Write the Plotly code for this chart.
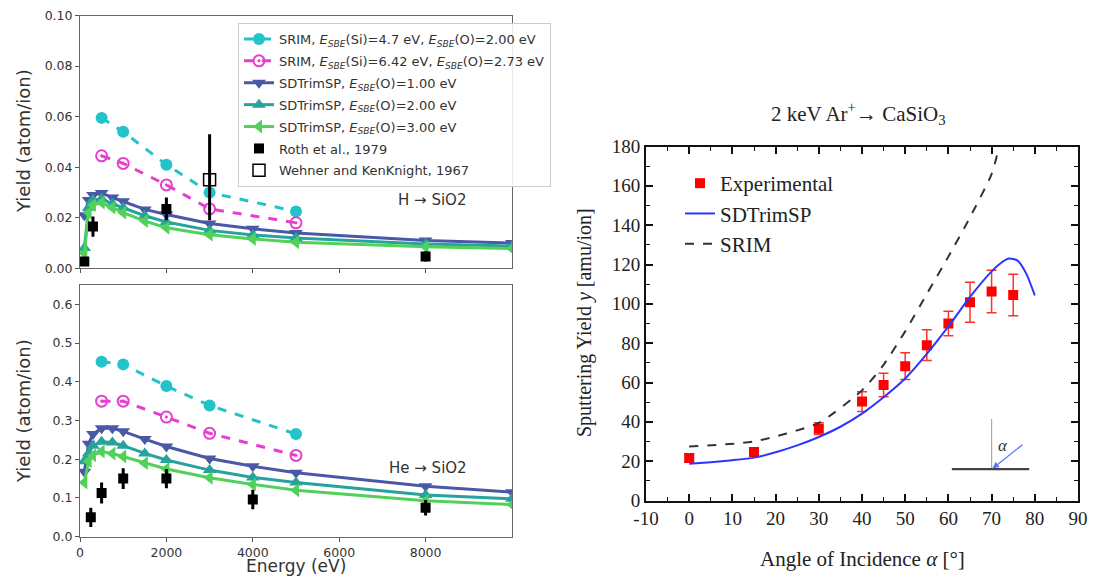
import plotly.graph_objects as go

# ---------------- data: left panels (Energy in eV) ----------------
E_sdt = [100, 200, 300, 500, 750, 1000, 1500, 2000, 3000, 4000, 5000, 8000, 10000]
E_srim = [500, 1000, 2000, 3000, 5000]

# H -> SiO2
H_srim1 = [0.0595, 0.054, 0.041, 0.030, 0.0225]
H_srim2 = [0.0445, 0.0415, 0.033, 0.0235, 0.018]
H_sdt1 = [0.021, 0.027, 0.029, 0.0298, 0.028, 0.0265, 0.0233, 0.0213, 0.0177, 0.0156, 0.014, 0.011, 0.0100]
H_sdt2 = [0.008, 0.024, 0.027, 0.0275, 0.0255, 0.024, 0.0208, 0.0183, 0.015, 0.0132, 0.012, 0.0096, 0.0088]
H_sdt3 = [0.006, 0.022, 0.025, 0.026, 0.024, 0.022, 0.0187, 0.016, 0.0133, 0.0116, 0.0103, 0.0085, 0.0078]
H_roth_E = [100, 300, 2000, 8000]
H_roth_y = [0.0027, 0.0165, 0.0235, 0.0047]
H_roth_err = [0.0015, 0.004, 0.0045, 0.002]
H_wehner_E = [3000]
H_wehner_y = [0.035]
H_wehner_errp = [0.018]
H_wehner_errm = [0.016]

# He -> SiO2
He_srim1 = [0.452, 0.445, 0.389, 0.339, 0.265]
He_srim2 = [0.350, 0.350, 0.309, 0.267, 0.210]
He_sdt1 = [0.168, 0.240, 0.265, 0.280, 0.280, 0.272, 0.252, 0.233, 0.202, 0.182, 0.165, 0.130, 0.115]
He_sdt2 = [0.195, 0.215, 0.235, 0.245, 0.243, 0.235, 0.215, 0.198, 0.172, 0.153, 0.140, 0.108, 0.098]
He_sdt3 = [0.140, 0.195, 0.210, 0.220, 0.215, 0.207, 0.190, 0.175, 0.152, 0.135, 0.120, 0.093, 0.083]
He_roth_E = [250, 500, 1000, 2000, 4000, 8000]
He_roth_y = [0.050, 0.113, 0.150, 0.150, 0.096, 0.075]
He_roth_err = [0.025, 0.027, 0.027, 0.025, 0.025, 0.02]

# tick values of the left panels
E_ticks = [0, 2000, 4000, 6000, 8000]
H_yticks = [0.0, 0.02, 0.04, 0.06, 0.08, 0.10]
He_yticks = [0.0, 0.1, 0.2, 0.3, 0.4, 0.5, 0.6]

# ---------------- data: right panel ----------------
ang_exp = [0, 15, 30, 40, 45, 50, 55, 60, 65, 70, 75]
y_exp = [21.6, 24.6, 36.5, 50.3, 58.7, 68.3, 79.0, 90.0, 100.8, 106.3, 104.5]
err_exp = [2.0, 2.0, 3.0, 5.0, 6.0, 6.8, 7.8, 6.2, 10.2, 10.8, 10.6]
ang_sdt = [0, 5, 10, 15, 20, 25, 30, 35, 40, 45, 50, 55, 60, 65, 70, 72, 74, 76, 78, 80]
y_sdt = [18.7, 19.5, 20.5, 21.8, 24.5, 28.0, 32.3, 37.5, 44.2, 52.5, 62.0, 74.5, 88.5, 103.5, 116.5, 120.5, 123.0, 122.0, 115.5, 104.3]
ang_srim = [0, 15, 30, 40, 45, 50, 55, 60, 65, 70, 72]
y_srim = [27.5, 30.0, 39.5, 56.0, 69.0, 86.0, 105.0, 124.0, 144.0, 166.0, 182.0]
x3_ticks = [-10, 0, 10, 20, 30, 40, 50, 60, 70, 80, 90]
x3_labels = ["-10", "0", "10", "20", "30", "40", "50", "60", "70", "80", "90"]
y3_ticks = [0, 20, 40, 60, 80, 100, 120, 140, 160, 180]

C_CYAN = "#22c3c9"
C_MAG = "#e63fd0"
C_NAVY = "#4a58a6"
C_TEAL = "#27a39c"
C_GREEN = "#52d15a"

SANS = "DejaVu Sans"
SERIF = "Liberation Serif"

def esbe(s):
    return "<i>E<sub>SBE</sub></i>(" + s + ")"

names = [
    "SRIM, " + esbe("Si") + "=4.7 eV, " + esbe("O") + "=2.00 eV",
    "SRIM, " + esbe("Si") + "=6.42 eV, " + esbe("O") + "=2.73 eV",
    "SDTrimSP, " + esbe("O") + "=1.00 eV",
    "SDTrimSP, " + esbe("O") + "=2.00 eV",
    "SDTrimSP, " + esbe("O") + "=3.00 eV",
    "Roth et al., 1979",
    "Wehner and KenKnight, 1967",
]

fig = go.Figure()

def add_panel(xa, ya, srim1, srim2, s1, s2, s3, rE, ry, rerr, show):
    fig.add_trace(go.Scatter(x=E_srim, y=srim1, mode="lines+markers", name=names[0], legendgroup="g0",
                             line=dict(color=C_CYAN, width=3, dash="dash"),
                             marker=dict(symbol="circle", size=12, color=C_CYAN),
                             xaxis=xa, yaxis=ya, showlegend=show, legend="legend"))
    fig.add_trace(go.Scatter(x=E_srim, y=srim2, mode="lines+markers", name=names[1], legendgroup="g1",
                             line=dict(color=C_MAG, width=3, dash="dash"),
                             marker=dict(symbol="circle-open-dot", size=11, color=C_MAG, line=dict(width=2)),
                             xaxis=xa, yaxis=ya, showlegend=show, legend="legend"))
    for i, (vals, col, sym) in enumerate([(s1, C_NAVY, "triangle-down"),
                                          (s2, C_TEAL, "triangle-up"),
                                          (s3, C_GREEN, "triangle-left")]):
        fig.add_trace(go.Scatter(x=E_sdt, y=vals, mode="lines+markers", name=names[2 + i],
                                 legendgroup="g%d" % (2 + i),
                                 line=dict(color=col, width=3),
                                 marker=dict(symbol=sym, size=12, color=col),
                                 xaxis=xa, yaxis=ya, showlegend=show, legend="legend"))
    fig.add_trace(go.Scatter(x=rE, y=ry, mode="markers", name=names[5], legendgroup="g5",
                             marker=dict(symbol="square", size=10, color="black"),
                             error_y=dict(type="data", array=rerr, color="black", thickness=3, width=0),
                             xaxis=xa, yaxis=ya, showlegend=show, legend="legend"))

add_panel("x", "y", H_srim1, H_srim2, H_sdt1, H_sdt2, H_sdt3, H_roth_E, H_roth_y, H_roth_err, True)
fig.add_trace(go.Scatter(x=H_wehner_E, y=H_wehner_y, mode="markers", name=names[6], legendgroup="g6",
                         marker=dict(symbol="square-open", size=12, color="black", line=dict(width=1.5)),
                         error_y=dict(type="data", symmetric=False, array=H_wehner_errp,
                                      arrayminus=H_wehner_errm, color="black", thickness=3, width=0),
                         xaxis="x", yaxis="y", legend="legend"))
add_panel("x2", "y2", He_srim1, He_srim2, He_sdt1, He_sdt2, He_sdt3, He_roth_E, He_roth_y, He_roth_err, False)

# right panel
fig.add_trace(go.Scatter(x=ang_exp, y=y_exp, mode="markers", name="Experimental",
                         marker=dict(symbol="square", size=10, color="#ff0000"),
                         error_y=dict(type="data", array=err_exp, color="#ff3030", thickness=1.5, width=5),
                         xaxis="x3", yaxis="y3", legend="legend2"))
fig.add_trace(go.Scatter(x=ang_sdt, y=y_sdt, mode="lines", name="SDTrimSP",
                         line=dict(color="#2b35ff", width=2, shape="spline", smoothing=0.6),
                         xaxis="x3", yaxis="y3", legend="legend2"))
fig.add_trace(go.Scatter(x=ang_srim, y=y_srim, mode="lines", name="SRIM",
                         line=dict(color="#333333", width=2, dash="dash", shape="spline", smoothing=0.6),
                         xaxis="x3", yaxis="y3", legend="legend2"))

# the page body adds an 8px margin all round; the figure is sized so the page
# does not overflow the 1097x585 window (no scrollbars)
OFF = 8
W, H = 1097 - 2 * OFF, 585 - 2 * OFF
def px(x):
    return (x - OFF) / W
def py(y):
    return 1 - (y - OFF) / H

left_ax = dict(showline=True, linecolor="#666666", linewidth=1, mirror=True, ticks="outside",
               ticklen=4, tickcolor="#555555", showgrid=False, zeroline=False, automargin=False,
               ticklabeloverflow="allow",
               tickfont=dict(family=SANS, size=12.5, color="#333333"))
right_ax = dict(showline=True, linecolor="#111111", linewidth=2, mirror="allticks", ticks="inside",
                ticklen=7, tickwidth=1.5, tickcolor="#111111", showgrid=False, zeroline=False,
                automargin=False, ticklabeloverflow="allow",
                tickfont=dict(family=SERIF, size=19, color="#222222"))

fig.update_layout(
    width=W, height=H, margin=dict(l=0, r=0, t=0, b=0, pad=0, autoexpand=False),
    paper_bgcolor="white", plot_bgcolor="white",
    xaxis=dict(domain=[px(80), px(512)], anchor="y", range=[0, 10000],
               tickvals=E_ticks, showticklabels=False, **left_ax),
    yaxis=dict(domain=[py(268.3), py(15.5)], anchor="x", range=[0, 0.1],
               tickvals=H_yticks, ticktext=["%.2f" % v for v in H_yticks], **left_ax),
    xaxis2=dict(domain=[px(80), px(512)], anchor="y2", range=[0, 10000],
                tickvals=E_ticks, **left_ax),
    yaxis2=dict(domain=[py(536.7), py(285)], anchor="x2", range=[0, 0.65],
                tickvals=He_yticks, ticktext=["%.1f" % v for v in He_yticks], **left_ax),
    xaxis3=dict(domain=[px(646), px(1078)], anchor="y3", range=[-10, 90],
                tickvals=x3_ticks, ticktext=x3_labels,
                minor=dict(ticks="inside", ticklen=4, tickwidth=1.2, tickcolor="#111111", dtick=5),
                **right_ax),
    yaxis3=dict(domain=[py(500.5), py(146.5)], anchor="x3", range=[0, 180], tickvals=y3_ticks,
                minor=dict(ticks="inside", ticklen=4, tickwidth=1.2, tickcolor="#111111", dtick=10),
                **right_ax),
    legend=dict(x=px(238), y=py(23), xanchor="left", yanchor="top",
                bgcolor="rgba(255,255,255,0.85)", bordercolor="#cccccc", borderwidth=1,
                font=dict(family=SANS, size=13, color="#333333"), tracegroupgap=2),
    legend2=dict(x=px(680), y=py(163), xanchor="left", yanchor="top",
                 bgcolor="rgba(0,0,0,0)", borderwidth=0,
                 font=dict(family=SERIF, size=21, color="#222222")),
    showlegend=True,
)

def A(**kw):
    d = dict(showarrow=False, xanchor="center", yanchor="middle")
    d.update(kw)
    return d

ann = []
ann.append(A(text="Yield (atom/ion)", x=px(23), y=py(141), xref="paper", yref="paper",
             textangle=-90, font=dict(family=SANS, size=18, color="#333333")))
ann.append(A(text="Yield (atom/ion)", x=px(23), y=py(411), xref="paper", yref="paper",
             textangle=-90, font=dict(family=SANS, size=18, color="#333333")))
ann.append(A(text="Energy (eV)", x=px(296), y=py(565.5), xref="paper", yref="paper",
             font=dict(family=SANS, size=17, color="#333333")))
ann.append(A(text="H → SiO2", x=8150, y=0.027, xref="x", yref="y",
             font=dict(family=SANS, size=15, color="#333333")))
ann.append(A(text="He → SiO2", x=8050, y=0.178, xref="x2", yref="y2",
             font=dict(family=SANS, size=15, color="#333333")))
ann.append(A(text="2 keV Ar<sup>+</sup>→ CaSiO<sub>3</sub>", x=px(858), y=py(113),
             xref="paper", yref="paper", font=dict(family=SERIF, size=21, color="#222222")))
ann.append(A(text="Sputtering Yield <i>y</i> [amu/ion]", x=px(584), y=py(323),
             xref="paper", yref="paper", textangle=-90,
             font=dict(family=SERIF, size=20, color="#222222")))
ann.append(A(text="Angle of Incidence <i>α</i> [°]", x=px(862), y=py(559),
             xref="paper", yref="paper", font=dict(family=SERIF, size=21, color="#222222")))
# incidence-angle inset
ann.append(A(text="<i>α</i>", x=72.6, y=28, xref="x3", yref="y3",
             font=dict(family=SERIF, size=17, color="#333333")))
ann.append(dict(text="", x=70.2, y=16.3, ax=77.5, ay=29, xref="x3", yref="y3",
                axref="x3", ayref="y3", showarrow=True, arrowhead=2, arrowsize=1,
                arrowwidth=1.3, arrowcolor="#5577ff"))
fig.update_layout(annotations=ann)

fig.add_shape(type="line", x0=70, x1=70, y0=16, y1=41.5, xref="x3", yref="y3",
              line=dict(color="#aaaaaa", width=1.2))
fig.add_shape(type="line", x0=60.8, x1=78.7, y0=16, y1=16, xref="x3", yref="y3",
              line=dict(color="#444444", width=2.2))

fig.write_html("out.html")
